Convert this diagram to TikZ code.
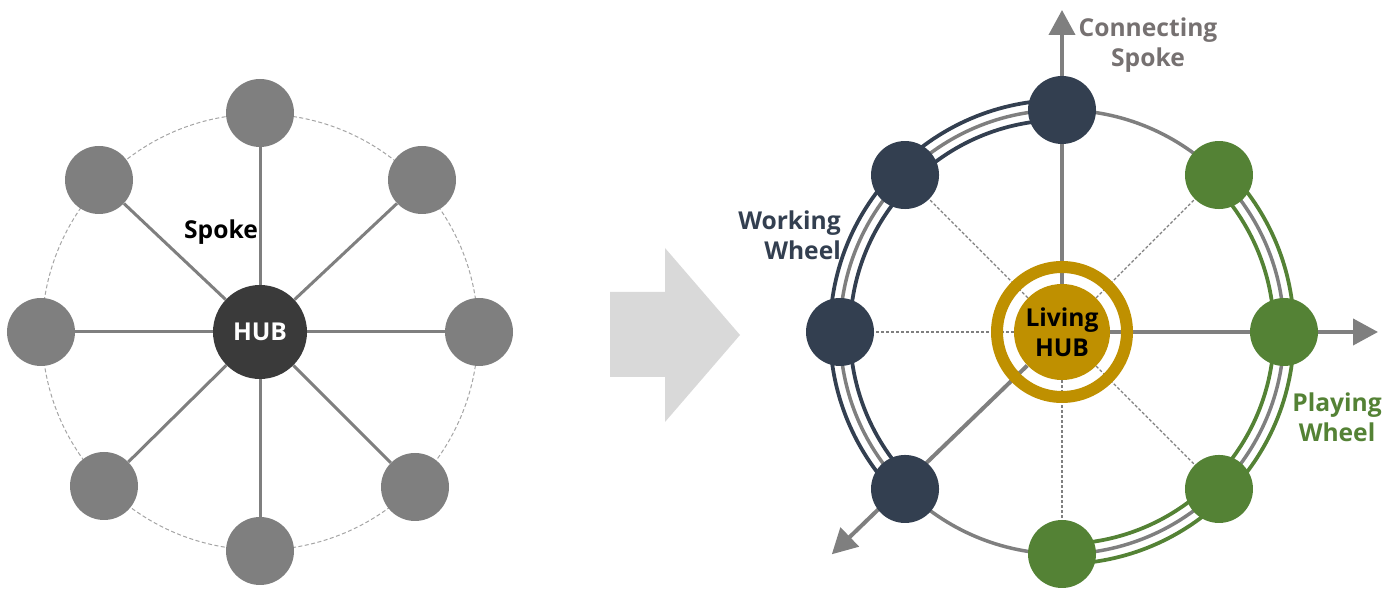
\documentclass[tikz,border=0pt]{standalone}
\usepackage{fontspec}
\setmainfont{Open Sans}
\usetikzlibrary{arrows.meta,backgrounds}

\definecolor{spokegray}{HTML}{7F7F7F}
\definecolor{hubdark}{HTML}{3A3A3A}
\definecolor{navy}{HTML}{333F50}
\definecolor{leafgreen}{HTML}{548235}
\definecolor{hubgold}{HTML}{BF9000}
\definecolor{labelgray}{HTML}{767171}
\definecolor{shiftgray}{HTML}{D9D9D9}

\begin{document}
\begin{tikzpicture}[x=0.2mm, y=0.2mm,
    every node/.style={font=\bfseries\fontsize{14}{17}\selectfont},
    graynode/.style={circle, fill=spokegray, minimum size=13.6mm, inner sep=0pt},
    navynode/.style={circle, fill=navy, minimum size=13.6mm, inner sep=0pt},
    greennode/.style={circle, fill=leafgreen, minimum size=13.6mm, inner sep=0pt},
    spoke/.style={draw=spokegray, line width=0.6mm},
    axis/.style={draw=spokegray, line width=0.8mm, -{Triangle[length=5mm, width=5.2mm]}},
    thinspoke/.style={draw=spokegray, line width=0.25mm, dash pattern=on 0.6mm off 0.4mm},
    wheelline/.style={line width=0.75mm}]

    \useasboundingbox (0,0) rectangle (1399,590);

    % Left wheel: hub and eight plain nodes
    \node[circle, fill=hubdark, minimum size=18.8mm, inner sep=0pt, text=white] (L-hub) at (260, 258) {HUB};
    \node[graynode] (L-n) at (260, 477) {};
    \node[graynode] (L-ne) at (422, 410) {};
    \node[graynode] (L-e) at (479, 258) {};
    \node[graynode] (L-se) at (415, 103) {};
    \node[graynode] (L-s) at (260, 39) {};
    \node[graynode] (L-sw) at (104, 104) {};
    \node[graynode] (L-w) at (41, 258) {};
    \node[graynode] (L-nw) at (99, 410) {};
    \node (spoke-label) at (221, 358) {Spoke};

    \begin{scope}[on background layer]
        \draw[draw=spokegray!70, line width=0.2mm, dash pattern=on 0.8mm off 0.5mm] (L-hub.center) circle[radius=218];
        \foreach \n in {n, ne, e, se, s, sw, w, nw}
            \draw[spoke] (L-hub) -- (L-\n);
    \end{scope}

    % Block arrow between the two wheels
    \fill[shiftgray] (610, 213) -- (665, 213) -- (665, 168) -- (740, 255) -- (665, 342) -- (665, 298) -- (610, 298) -- cycle;

    % Right wheel: living hub and eight coloured nodes
    \node[circle, draw=hubgold, line width=2.4mm, minimum size=26mm, inner sep=0pt] (R-ring) at (1062, 258) {};
    \node[circle, fill=hubgold, minimum size=19.2mm, inner sep=0pt, align=center, text=black] (R-hub) at (1062, 258) {Living\\HUB};
    \begin{scope}[shift={(1062, 258)}]
        \node[navynode] (R-n) at (90:222) {};
        \node[navynode] (R-nw) at (135:222) {};
        \node[navynode] (R-w) at (180:222) {};
        \node[navynode] (R-sw) at (225:222) {};
        \node[greennode] (R-ne) at (45:222) {};
        \node[greennode] (R-e) at (0:222) {};
        \node[greennode] (R-se) at (-45:222) {};
        \node[greennode] (R-s) at (-90:222) {};
        \coordinate (R-up) at (90:322);
        \coordinate (R-right) at (0:316);
        \coordinate (R-down) at (224:320);
    \end{scope}

    \begin{scope}[on background layer]
        % dashed spokes
        \foreach \n in {nw, w, ne, se, s}
            \draw[thinspoke] (R-hub) -- (R-\n);
        % connecting spokes
        \draw[axis] (R-hub) -- (R-up);
        \draw[axis] (R-hub) -- (R-right);
        \draw[axis] (R-hub) -- (R-down);
        % rim
        \draw[draw=spokegray, line width=0.7mm] (R-hub.center) circle[radius=222];
        % working wheel
        \draw[wheelline, draw=navy] (R-n) ++(0,10) arc[start angle=90, end angle=225, radius=232];
        \draw[wheelline, draw=navy] (R-n) ++(0,-10) arc[start angle=90, end angle=225, radius=212];
        % playing wheel
        \draw[wheelline, draw=leafgreen] (R-s) ++(0,-10) arc[start angle=-90, end angle=45, radius=232];
        \draw[wheelline, draw=leafgreen] (R-s) ++(0,10) arc[start angle=-90, end angle=45, radius=212];
    \end{scope}

    % Labels
    \node[text=labelgray, align=center] (connect-label) at (1148, 545) {Connecting\\Spoke};
    \node[text=navy, align=right, anchor=east] (work-label) at (847, 355) {Working\\Wheel};
    \node[text=leafgreen, align=center] (play-label) at (1337, 173) {Playing\\Wheel};
\end{tikzpicture}
\end{document}
